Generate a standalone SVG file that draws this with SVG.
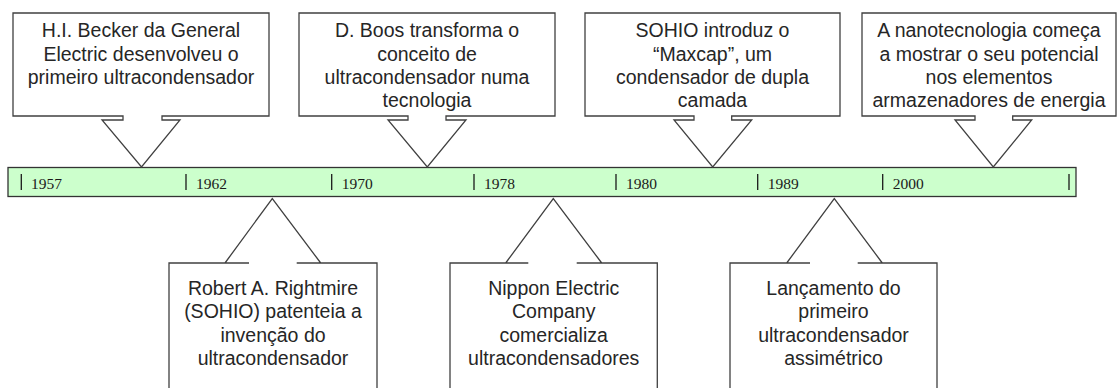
<svg xmlns="http://www.w3.org/2000/svg" width="1118" height="388" viewBox="0 0 1118 388">
<style>
.box{fill:#fff;stroke:#404040;stroke-width:1.3;stroke-linejoin:miter}
.t{font-family:"Liberation Sans",Arial,sans-serif;font-size:19.5px;fill:#262626;text-anchor:middle}
.yr{font-family:"Liberation Serif","Times New Roman",serif;font-size:15.5px;fill:#1a1a1a}
.tick{stroke:#1a1a1a;stroke-width:1.3}
.bar{fill:#ccffcc;stroke:#333;stroke-width:1.3}
</style>
<rect width="1118" height="388" fill="#fff"/>
<g id="timeline">
<rect class="bar" x="8" y="167.5" width="1068" height="29"/>
<line class="tick" x1="21.3" y1="174" x2="21.3" y2="190"/><text class="yr" x="31" y="189">1957</text>
<line class="tick" x1="186" y1="174" x2="186" y2="190"/><text class="yr" x="196" y="189">1962</text>
<line class="tick" x1="331.7" y1="174" x2="331.7" y2="190"/><text class="yr" x="341.7" y="189">1970</text>
<line class="tick" x1="474" y1="174" x2="474" y2="190"/><text class="yr" x="484" y="189">1978</text>
<line class="tick" x1="616" y1="174" x2="616" y2="190"/><text class="yr" x="626" y="189">1980</text>
<line class="tick" x1="757.7" y1="174" x2="757.7" y2="190"/><text class="yr" x="767.7" y="189">1989</text>
<line class="tick" x1="882.7" y1="174" x2="882.7" y2="190"/><text class="yr" x="892.7" y="189">2000</text>
<line class="tick" x1="1069" y1="174" x2="1069" y2="190"/>
</g>
<g id="connectors"></g>
<g id="n1957">
<path class="box" d="M13,13 H269 V116 H162 V120 H180 L141.5,167 L102,120 H123 V116 H13 Z"/>
<text class="t" x="141" y="37">H.I. Becker da General</text>
<text class="t" x="141" y="60.5">Electric desenvolveu o</text>
<text class="t" x="141" y="84">primeiro ultracondensador</text>
</g>
<g id="n1970">
<path class="box" d="M299,13 H555 V116 H446 V120 H466 L427.3,167 L388,120 H408 V116 H299 Z"/>
<text class="t" x="427" y="37">D. Boos transforma o</text>
<text class="t" x="427" y="60.5">conceito de</text>
<text class="t" x="427" y="84">ultracondensador numa</text>
<text class="t" x="427" y="107.3">tecnologia</text>
</g>
<g id="n1980">
<path class="box" d="M585,13 H840 V116 H731.7 V120 H751.7 L712.7,167 L674,120 H694 V116 H585 Z"/>
<text class="t" x="712.5" y="37">SOHIO introduz o</text>
<text class="t" x="712.5" y="60.5">“Maxcap”, um</text>
<text class="t" x="712.5" y="84">condensador de dupla</text>
<text class="t" x="712.5" y="107.3">camada</text>
</g>
<g id="n2000">
<path class="box" d="M862,13 H1116 V116 H1012.7 V120 H1031.7 L993.3,167 L955,120 H975 V116 H862 Z"/>
<text class="t" x="989" y="37">A nanotecnologia começa</text>
<text class="t" x="989" y="60.5">a mostrar o seu potencial</text>
<text class="t" x="989" y="84">nos elementos</text>
<text class="t" x="989" y="107.3">armazenadores de energia</text>
</g>
<g id="n1962">
<path class="box" d="M169,400 V263 H249 M296.7,263 H377 V400 M225,263 L272.3,198.5 L320.7,263"/>
<text class="t" x="273" y="295">Robert A. Rightmire</text>
<text class="t" x="273" y="318.3">(SOHIO) patenteia a</text>
<text class="t" x="273" y="341.7">invenção do</text>
<text class="t" x="273" y="365">ultracondensador</text>
</g>
<g id="n1978">
<path class="box" d="M450,400 V263 H528.3 M576.7,263 H657.3 V400 M505.7,263 L553.3,198.5 L601.7,263"/>
<text class="t" x="553.7" y="295">Nippon Electric</text>
<text class="t" x="553.7" y="318.3">Company</text>
<text class="t" x="553.7" y="341.7">comercializa</text>
<text class="t" x="553.7" y="365">ultracondensadores</text>
</g>
<g id="n1989">
<path class="box" d="M730,400 V263 H810 M857.7,263 H937 V400 M786.7,263 L834.3,198.5 L882.3,263"/>
<text class="t" x="833.5" y="295">Lançamento do</text>
<text class="t" x="833.5" y="318.3">primeiro</text>
<text class="t" x="833.5" y="341.7">ultracondensador</text>
<text class="t" x="833.5" y="365">assimétrico</text>
</g>
</svg>
